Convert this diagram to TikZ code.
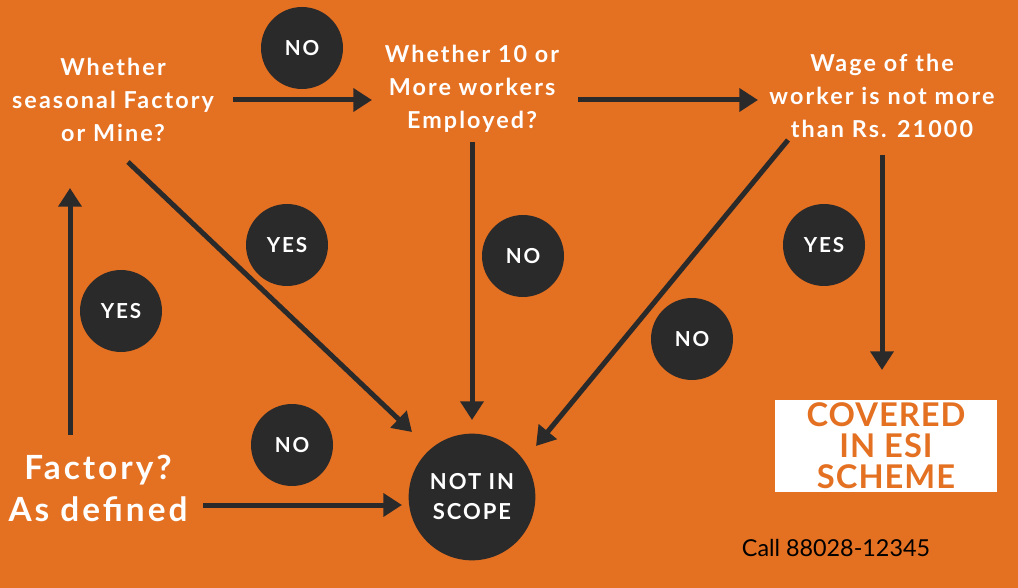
\documentclass[tikz,border=0pt]{standalone}
\usepackage{fontspec}
\setmainfont{Lato}[LetterSpace=9]
\newfontfamily\callfont{Lato}
\newfontfamily\coverfont{Lato}[LetterSpace=3]
\usepackage{tikz}
\usetikzlibrary{positioning, arrows.meta, shapes}
\definecolor{esiorange}{HTML}{E47022}
\definecolor{esidark}{HTML}{2A2A2A}
\tikzstyle{question} = [text=white, align=center, inner sep=0pt,
font=\bfseries\fontsize{17.5}{24.75}\selectfont]
\tikzstyle{bigquestion} = [text=white, align=center, inner sep=0pt,
font=\bfseries\fontsize{25}{31.5}\selectfont]
\tikzstyle{badge} = [circle, fill=esidark, text=white, minimum size=61.5pt,
inner sep=0pt, font=\bfseries\fontsize{15.5}{15.5}\selectfont]
\tikzstyle{bigbadge} = [badge, minimum size=95pt, align=center,
font=\bfseries\fontsize{16.5}{22.5}\selectfont]
\tikzstyle{covbox} = [rectangle, fill=white, text=esiorange, align=center,
minimum width=166.5pt, minimum height=69pt, inner sep=0pt,
font=\coverfont\bfseries\fontsize{24.5}{23.25}\selectfont]
\tikzstyle{arrow} = [line width=3.75pt, color=esidark,
-{Triangle[length=14pt, width=17pt]}]

\begin{document}
\begin{tikzpicture}[x=0.75pt, y=-0.75pt]
    \fill [esiorange] (0,0) rectangle (1018,588);
    \useasboundingbox (0,0) rectangle (1018,588);

    \node (seasonal) [question] at (113,100) {Whether\\seasonal Factory\\or Mine?};
    \node (workers) [question] at (472,89) {Whether 10 or\\More workers\\Employed?};
    \node (wage) [question] at (882,96) {Wage of the\\worker is not more\\than Rs. 21000};
    \node (factory) [bigquestion] at (98,488) {Factory?\\As defined};
    \node (scope) [bigbadge] at (472,497) {NOT IN\\SCOPE};
    \node (covered) [covbox] at (886,446) {COVERED\\IN ESI\\SCHEME};

    \node (noA) [badge] at (302,48) {NO};
    \node (yesA) [badge] at (287,245) {YES};
    \node (noB) [badge] at (523,256) {NO};
    \node (noC) [badge] at (692,339) {NO};
    \node (yesB) [badge] at (824,245) {YES};
    \node (yesC) [badge] at (121,311) {YES};
    \node (noD) [badge] at (292,445) {NO};

    \node (call) [font=\callfont\fontsize{17.5}{17.5}\selectfont, text=black] at (836,548) {Call 88028-12345};

    \draw [arrow] ([shift={(120,0)}]seasonal.center) -- ([shift={(-100,11)}]workers.center);
    \draw [arrow] ([shift={(106,11)}]workers.center) -- ([shift={(-124,4)}]wage.center);
    \draw [arrow] ([shift={(0,53)}]workers.center) -- ([shift={(0,-77)}]scope.center);
    \draw [arrow] ([shift={(15,62)}]seasonal.center) -- ([shift={(-60,-65)}]scope.center);
    \draw [arrow] ([shift={(-94,44)}]wage.center) -- ([shift={(64,-51)}]scope.center);
    \draw [arrow] ([shift={(0,59)}]wage.center) -- ([shift={(-4,-76)}]covered.center);
    \draw [arrow] ([shift={(-28,-53)}]factory.center) -- ([shift={(-43,88)}]seasonal.center);
    \draw [arrow] ([shift={(105,17)}]factory.center) -- ([shift={(-70,8)}]scope.center);
\end{tikzpicture}
\end{document}
